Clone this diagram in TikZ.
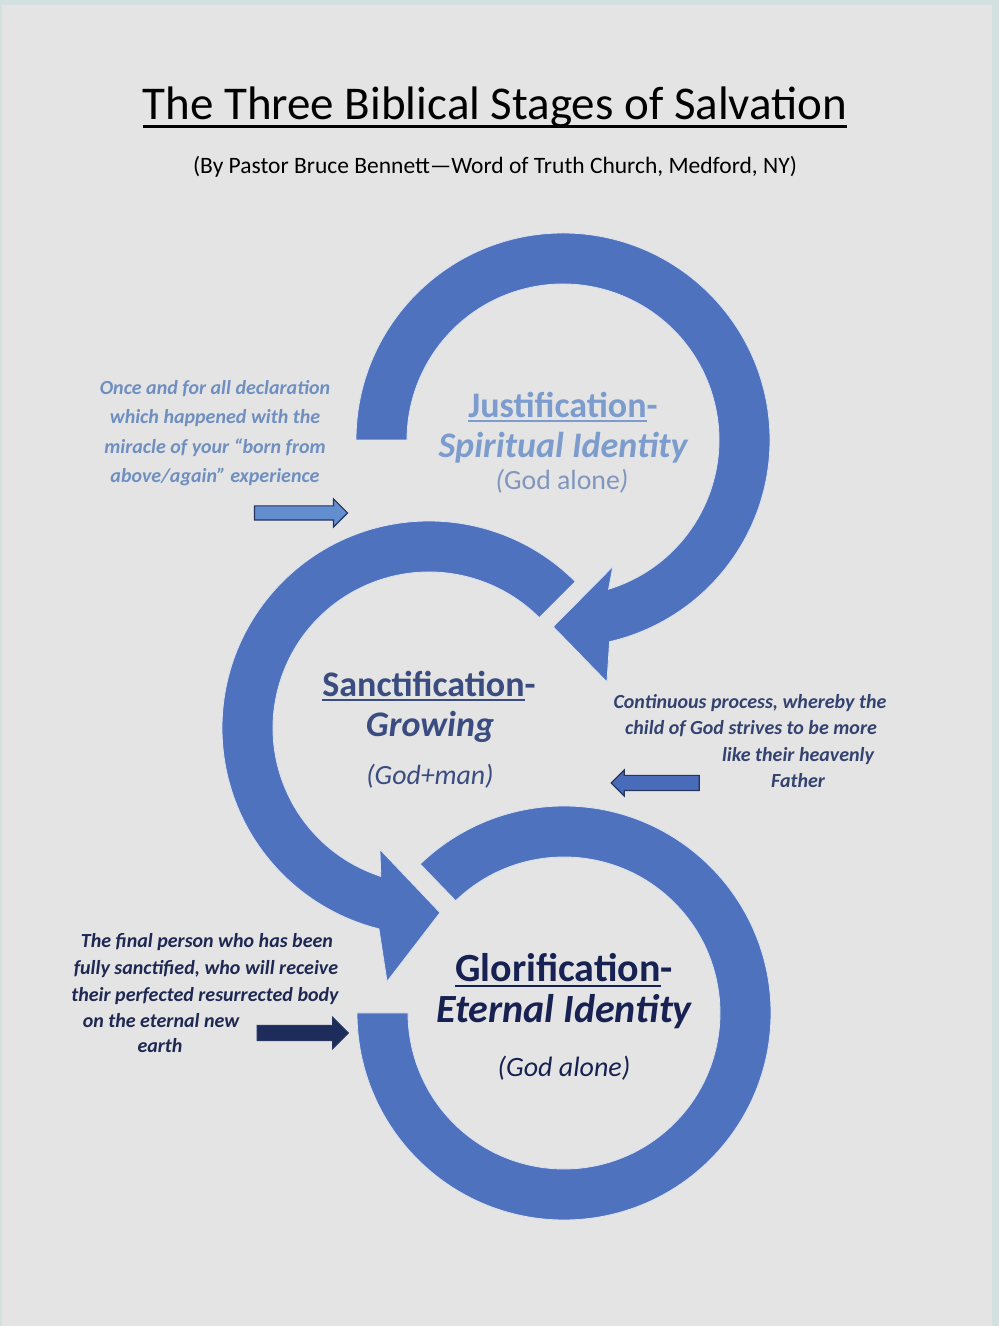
\documentclass[tikz,border=0pt]{standalone}
\usepackage{fontspec}
\setmainfont{Carlito}
\usetikzlibrary{calc,shapes.arrows}

\definecolor{paper}{RGB}{228,228,228}
\definecolor{framecol}{RGB}{210,224,224}
\definecolor{ringblue}{RGB}{79,114,191}
\definecolor{justcol}{RGB}{124,156,205}
\definecolor{justparen}{RGB}{128,150,190}
\definecolor{sanccol}{RGB}{58,76,128}
\definecolor{glorcol}{RGB}{24,34,82}
\definecolor{noteone}{RGB}{110,143,192}
\definecolor{notetwo}{RGB}{52,66,112}
\definecolor{notethree}{RGB}{30,40,82}
\definecolor{arrowline}{RGB}{38,52,95}

\newsavebox{\ulbox}
\newcommand{\headul}[3]{\sbox{\ulbox}{#3}\rlap{\rule[-#2]{\wd\ulbox}{#1}}\usebox{\ulbox}}

\begin{document}
\begin{tikzpicture}[x=1pt, y=1pt,
    every node/.style={inner sep=0, anchor=base},
    ring/.style={fill=ringblue, draw=white!80!ringblue, line width=0.8},
    titletext/.style={font=\fontsize{47}{54}\selectfont},
    bytext/.style={font=\fontsize{23.5}{28}\selectfont},
    stagehead/.style={font=\fontsize{36}{42}\selectfont\bfseries},
    stagesub/.style={font=\fontsize{36}{42}\selectfont\bfseries\itshape},
    stageparen/.style={font=\fontsize{27.8}{32}\selectfont},
    notetext/.style={font=\fontsize{20}{24}\selectfont\bfseries\itshape},
    blockarrow/.style={single arrow, draw=arrowline, line width=1.1, minimum height=#1, anchor=center, inner xsep=0}
]
\fill[framecol] (0,0) rectangle (999,1326);
\fill[paper] (2,0) rectangle (992,1321);
\useasboundingbox (0,0) rectangle (999,1326);

\coordinate (c1) at (563,886);
\coordinate (c2) at (429,598);
\coordinate (c3) at (564,313);

% justification ring
\fill[ring] ($(c1)+(180:207)$) arc[start angle=180, end angle=-77, radius=207]
    -- ($(c1)+(-79.7:246)$) -- ($(c1)+(-93:187)$) -- ($(c1)+(-68.5:136)$)
    -- ($(c1)+(-73:156)$) arc[start angle=-73, end angle=180, radius=156] -- cycle;
% sanctification ring
\fill[ring] ($(c2)+(45:207)$) arc[start angle=45, end angle=256, radius=207]
    -- ($(c2)+(260.6:257)$) -- ($(c2)+(273.4:185)$) -- ($(c2)+(248:131)$)
    -- ($(c2)+(252:156)$) arc[start angle=252, end angle=45, radius=156] -- cycle;
% glorification ring
\fill[ring] ($(c3)+(180:207)$) arc[start angle=180, end angle=494, radius=207]
    -- ($(c3)+(494:156)$) arc[start angle=494, end angle=180, radius=156] -- cycle;

\node[titletext] (title) at (495,1206) {\headul{2.8pt}{8pt}{The Three Biblical Stages of Salvation}};
\node[bytext] (byline) at (495,1152) {(By Pastor Bruce Bennett—Word of Truth Church, Medford, NY)};

\node[stagehead, text=justcol] (justhead) at (563,908) {\headul{2.2pt}{4.5pt}{Justification}-};
\node[stagesub, text=justcol] (justsub) at (563,868) {Spiritual Identity};
\node[stageparen, text=justparen] (justwho) at (562,836) {\textit{(}God alone\textit{)}};

\node[stagehead, text=sanccol] (sanchead) at (429,629) {\headul{2.2pt}{4.5pt}{Sanctification}-};
\node[stagesub, text=sanccol] (sancsub) at (430,589) {Growing};
\node[stageparen, text=sanccol, font=\fontsize{27.8}{32}\selectfont\itshape] (sancwho) at (430,541) {(God+man)};

\node[stagehead, text=glorcol, font=\fontsize{40}{46}\selectfont\bfseries] (glorhead) at (564,344) {\headul{2.4pt}{5pt}{Glorification}-};
\node[stagesub, text=glorcol, font=\fontsize{40}{46}\selectfont\bfseries\itshape] (glorsub) at (564,303) {Eternal Identity};
\node[stageparen, text=glorcol, font=\fontsize{28}{32}\selectfont\itshape] (glorwho) at (564,249) {(God alone)};

\node[notetext, text=noteone] (once1) at (215,931) {Once and for all declaration};
\node[notetext, text=noteone] (once2) at (215,902) {which happened with the};
\node[notetext, text=noteone] (once3) at (215,872) {miracle of your “born from};
\node[notetext, text=noteone] (once4) at (215,843) {above/again” experience};

\node[notetext, text=notetwo] (grow1) at (750,617) {Continuous process, whereby the};
\node[notetext, text=notetwo] (grow2) at (751,591) {child of God strives to be more};
\node[notetext, text=notetwo] (grow3) at (798,564) {like their heavenly};
\node[notetext, text=notetwo] (grow4) at (798,538) {Father};

\node[notetext, text=notethree] (final1) at (207,378) {The final person who has been};
\node[notetext, text=notethree] (final2) at (206,351) {fully sanctified, who will receive};
\node[notetext, text=notethree] (final3) at (205,324) {their perfected resurrected body};
\node[notetext, text=notethree] (final4) at (161,298) {on the eternal new};
\node[notetext, text=notethree] (final5) at (160,273) {earth};

\node[blockarrow=93, fill={rgb,255:red,98;green,142;blue,208}, inner ysep=6.5, minimum width=27, single arrow head extend=7] (arrowjust) at (297.5,813) {};
\node[blockarrow=88, fill={rgb,255:red,72;green,108;blue,186}, inner ysep=7, minimum width=25, single arrow head extend=5.5, shape border rotate=180] (arrowsanc) at (659,543) {};
\node[blockarrow=91, fill={rgb,255:red,30;green,44;blue,92}, inner ysep=7, minimum width=30, single arrow head extend=8] (arrowglor) at (299,293) {};
\end{tikzpicture}
\end{document}
